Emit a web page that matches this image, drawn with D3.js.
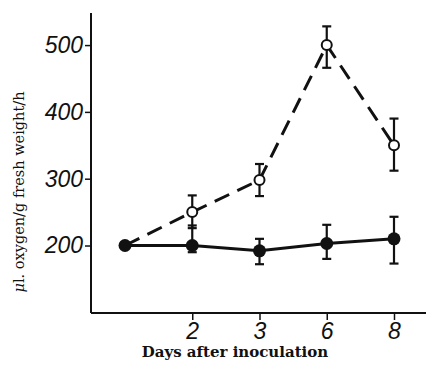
<!DOCTYPE html>
<html>
<head>
<meta charset="utf-8">
<script src="https://cdn.jsdelivr.net/npm/d3@7"></script>
<style>
  body { margin: 0; background: #fff; }
</style>
</head>
<body>
<div id="chart"></div>
<script>
const days = ["0", "2", "3", "6", "8"];
const tickDays = ["2", "3", "6", "8"];
const yTicks = [200, 300, 400, 500];

// infected (dashed, open circles)
const infected = [200, 250, 298, 500, 350];
const infectedLow = [null, 226, 274, 466, 312];
const infectedHigh = [null, 275, 322, 528, 390];

// control (solid, filled circles)
const control = [200, 200, 192, 203, 210];
const controlLow = [null, 190, 172, 180, 173];
const controlHigh = [null, 230, 210, 231, 243];

const width = 426, height = 365;
const margin = { top: 13, right: 0, bottom: 52, left: 91 };

const svg = d3.select("#chart").append("svg")
  .attr("width", width)
  .attr("height", height);

const x = d3.scalePoint()
  .domain(days)
  .range([125, 394]);

const y = d3.scaleLinear()
  .domain([99, 548])
  .range([height - margin.bottom, margin.top]);

const g = svg.append("g");

// axes
const xAxis = g.append("g")
  .attr("transform", `translate(0,${height - margin.bottom})`)
  .call(d3.axisBottom(x).tickValues(tickDays).tickSize(7).tickPadding(3));
xAxis.select(".domain").attr("d", `M${margin.left},0H${width}`);

const yAxis = g.append("g")
  .attr("transform", `translate(${margin.left},0)`)
  .call(d3.axisLeft(y).tickValues(yTicks).tickSize(6).tickPadding(2));
yAxis.select(".domain").attr("d", `M0,${margin.top}V${height - margin.bottom}`);

g.selectAll(".domain").attr("stroke", "#111").attr("stroke-width", 2);
g.selectAll(".tick line").attr("stroke", "#111").attr("stroke-width", 1.5);
g.selectAll(".tick text")
  .attr("fill", "#111")
  .style("font-family", "'Liberation Sans', Arial, sans-serif")
  .style("font-style", "italic")
  .style("font-size", "23px");

// lines
const line = d3.line()
  .x((d, i) => x(days[i]))
  .y(d => y(d));

g.append("path")
  .datum(infected)
  .attr("d", line)
  .attr("fill", "none")
  .attr("stroke", "#111")
  .attr("stroke-width", 3)
  .attr("stroke-dasharray", "16,9");

g.append("path")
  .datum(control)
  .attr("d", line)
  .attr("fill", "none")
  .attr("stroke", "#111")
  .attr("stroke-width", 3);

// error bars
function errorBars(lows, highs) {
  const idx = d3.range(days.length).filter(i => lows[i] !== null);
  const eb = g.append("g").attr("stroke", "#111").attr("stroke-width", 2.2);
  eb.selectAll(".v").data(idx).enter().append("line")
    .attr("x1", i => x(days[i])).attr("x2", i => x(days[i]))
    .attr("y1", i => y(lows[i])).attr("y2", i => y(highs[i]));
  eb.selectAll(".t").data(idx).enter().append("line")
    .attr("x1", i => x(days[i]) - 4.5).attr("x2", i => x(days[i]) + 4.5)
    .attr("y1", i => y(highs[i])).attr("y2", i => y(highs[i]));
  eb.selectAll(".b").data(idx).enter().append("line")
    .attr("x1", i => x(days[i]) - 4.5).attr("x2", i => x(days[i]) + 4.5)
    .attr("y1", i => y(lows[i])).attr("y2", i => y(lows[i]));
}
errorBars(infectedLow, infectedHigh);
errorBars(controlLow, controlHigh);

// points
g.selectAll(".open").data(infected.slice(1)).enter().append("circle")
  .attr("cx", (d, i) => x(days[i + 1]))
  .attr("cy", d => y(d))
  .attr("r", 5)
  .attr("fill", "#fff")
  .attr("stroke", "#111")
  .attr("stroke-width", 2);

g.selectAll(".filled").data(control).enter().append("circle")
  .attr("cx", (d, i) => x(days[i]))
  .attr("cy", d => y(d))
  .attr("r", 6.5)
  .attr("fill", "#111");

// axis titles
const yTitle = svg.append("text")
  .attr("transform", "translate(24,192) rotate(-90)")
  .attr("text-anchor", "middle")
  .style("font-family", "'DejaVu Serif', serif")
  .style("font-size", "14.5px")
  .attr("fill", "#111");
yTitle.append("tspan").style("font-style", "italic").text("μ");
yTitle.append("tspan").text("l. oxygen/g fresh weight/h");

svg.append("text")
  .attr("x", 235)
  .attr("y", 357)
  .attr("text-anchor", "middle")
  .style("font-family", "'DejaVu Serif', serif")
  .style("font-weight", "bold")
  .style("font-size", "15px")
  .attr("fill", "#111")
  .text("Days after inoculation");
</script>
</body>
</html>
